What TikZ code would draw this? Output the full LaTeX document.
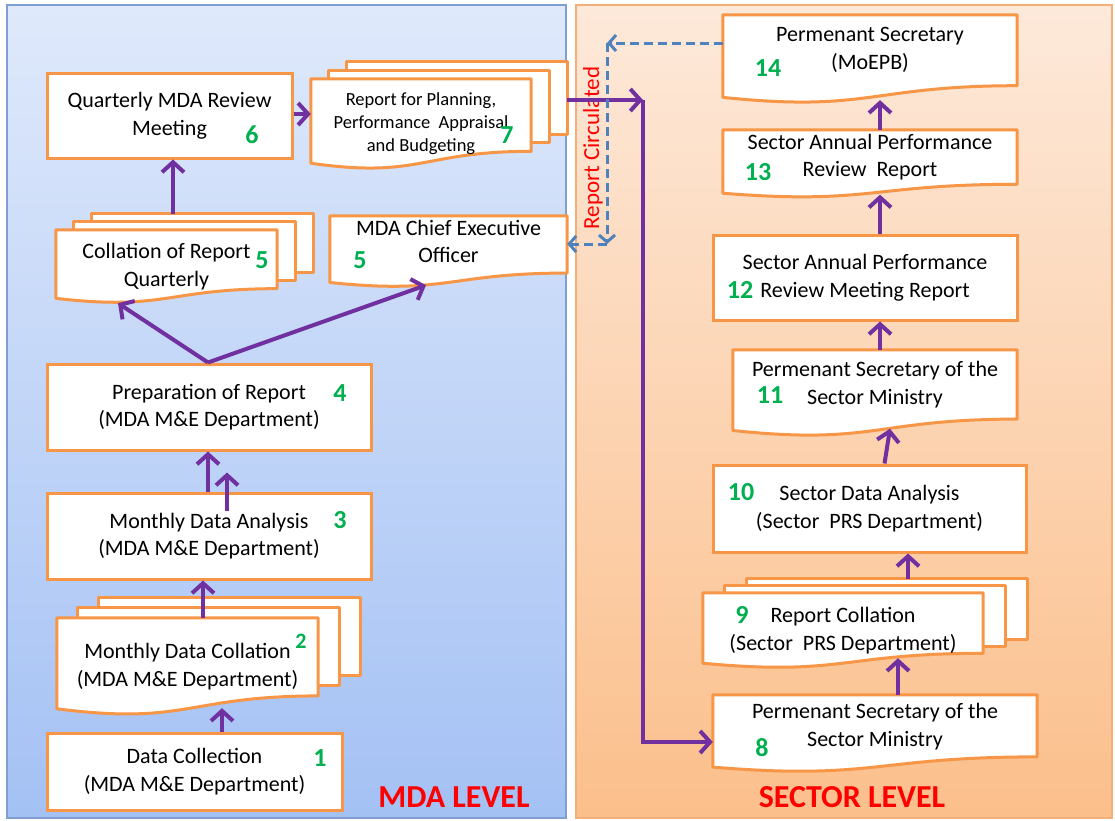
\documentclass[tikz,border=0pt]{standalone}
\usepackage{fontspec}
\setmainfont{Carlito}
\usetikzlibrary{calc, arrows.meta, positioning}
\usepackage{xcolor}

\definecolor{boxorange}{HTML}{F79646}
\definecolor{flowpurple}{HTML}{7030A0}
\definecolor{circblue}{HTML}{4F81BD}
\definecolor{stepgreen}{HTML}{00B050}
\definecolor{mdatop}{HTML}{DFE9FB}
\definecolor{mdabottom}{HTML}{A4C1F4}
\definecolor{mdaedge}{HTML}{7F9FD3}
\definecolor{sectop}{HTML}{FDE9DA}
\definecolor{secbottom}{HTML}{FBBF8B}
\definecolor{secedge}{HTML}{F4AE78}

\newcommand{\boxfont}{\fontsize{22}{27.5}\selectfont}
\newcommand{\smallboxfont}{\fontsize{18.5}{23}\selectfont}
\newcommand{\numfont}{\fontsize{26}{30}\selectfont\bfseries}
% two lines of text set a little above the middle of the sheet
\newcommand{\raisedlines}[2][8pt]{\raisebox{#1}[\height][\depth]{\begin{tabular}{@{}c@{}}#2\end{tabular}}}

\pgfdeclarelayer{panel}
\pgfdeclarelayer{paper}
\pgfsetlayers{panel,paper,main}

% front sheet of a document shape, wavy bottom
\newcommand{\docpage}[1]{%
  \filldraw[sheet] (#1.north west) -- (#1.north east)
    -- ($(#1.north east)!0.802!(#1.south east)$)
    .. controls ($(#1.north)!0.802!(#1.south)$) and ($(#1.north)!1.107!(#1.south)$)
    .. ($(#1.north west)!0.934!(#1.south west)$) -- cycle;}
% two sheets lying behind it
\newcommand{\backpages}[3]{%
  \foreach \p in {2,1}
    \filldraw[sheet] ($(#1.north west)+(\p*#2,-\p*#3)$) rectangle
      ($(#1.north east)!0.802!(#1.south east)+(\p*#2,-\p*#3)$);}

\begin{document}
\begin{tikzpicture}[x=1pt, y=-1pt]
				\tikzstyle{stepbox} = [draw=boxorange, line width=3pt, fill=white, inner sep=0pt, align=center, font=\boxfont]
				\tikzstyle{docbox} = [inner sep=0pt, align=center, font=\boxfont]
				\tikzstyle{sheet} = [draw=boxorange, line width=3pt, fill=white, line join=round]
				\tikzstyle{num} = [text=stepgreen, font=\numfont, inner sep=0pt]
				\tikzstyle{flowarrow} = [draw=flowpurple, line width=4pt, -{Straight Barb[length=10pt, width=22pt]}]
				\tikzstyle{circline} = [draw=circblue, line width=3pt, dash pattern=on 9pt off 5pt, -{Straight Barb[length=7pt, width=16pt]}]
				\tikzstyle{levellabel} = [text=red, font=\fontsize{32}{36}\selectfont\bfseries]
				
				\useasboundingbox (0,0) rectangle (1115,820);
				
				% MDA level
				\node[stepbox, minimum width=295pt, minimum height=77pt] at (194.5,771.5) (n1) {Data Collection\\(MDA M\&E Department)};
				\node[docbox, minimum width=261pt, minimum height=97pt] at (187.5,666.5) (n2) {Monthly Data Collation\\(MDA M\&E Department)};
				\node[stepbox, minimum width=324pt, minimum height=86pt] at (209,536) (n3) {Monthly Data Analysis\\(MDA M\&E Department)};
				\node[stepbox, minimum width=324pt, minimum height=86pt] at (209,407) (n4) {Preparation of Report\\(MDA M\&E Department)};
				\node[docbox, minimum width=221pt, minimum height=73pt] at (166.5,266.5) (n5a) {Collation of Report\\Quarterly};
				\node[docbox, minimum width=237pt, minimum height=71pt] at (448.5,251.5) (n5b) {\raisedlines{MDA Chief Executive\\Officer}};
				\node[stepbox, minimum width=245pt, minimum height=85pt] at (169.5,115.5) (n6) {Quarterly MDA Review\\Meeting};
				\node[docbox, font=\smallboxfont, minimum width=220pt, minimum height=90pt] at (421,124) (n7) {Report for Planning,\\Performance\ \ Appraisal\\and Budgeting};
				
				% sector level
				\node[docbox, minimum width=324pt, minimum height=77pt] at (875,733.5) (n8) {\raisedlines[6.5pt]{Permenant Secretary of the\\Sector Ministry}};
				\node[docbox, minimum width=280pt, minimum height=75pt] at (843,630.5) (n9) {Report Collation\\(Sector\ \ PRS Department)};
				\node[stepbox, minimum width=313pt, minimum height=87pt] at (869.5,508.5) (n10) {Sector Data Analysis\\(Sector\ \ PRS Department)};
				\node[docbox, minimum width=284pt, minimum height=86pt] at (875,393) (n11) {\raisedlines{Permenant Secretary of the\\Sector Ministry}};
				\node[stepbox, minimum width=304pt, minimum height=85pt] at (865,277.5) (n12) {Sector Annual Performance\\Review Meeting Report};
				\node[docbox, minimum width=294pt, minimum height=67.5pt] at (870,163.75) (n13) {\raisedlines[6.5pt]{Sector Annual Performance\\Review\ \ Report}};
				\node[docbox, minimum width=294pt, minimum height=88pt] at (870,59) (n14) {\raisedlines[9pt]{Permenant Secretary\\(MoEPB)}};
				
				% step numbers
				\node[num] at (320,758) (s1) {1};
				\node[num, font=\fontsize{22}{26}\selectfont\bfseries] at (301,641) (s2) {2};
				\node[num] at (340,520) (s3) {3};
				\node[num] at (340,393) (s4) {4};
				\node[num] at (262,260) (s5a) {5};
				\node[num] at (360,260) (s5b) {5};
				\node[num] at (252,135) (s6) {6};
				\node[num] at (507,135) (s7) {7};
				\node[num] at (762,748) (s8) {8};
				\node[num] at (742,615) (s9) {9};
				\node[num] at (741,492) (s10) {10};
				\node[num] at (770,395) (s11) {11};
				\node[num] at (740,290) (s12) {12};
				\node[num] at (758,172) (s13) {13};
				\node[num] at (768,68) (s14) {14};
				
				\node[levellabel] at (454,797) (mdalevel) {MDA LEVEL};
				\node[levellabel] at (852,797) (seclevel) {SECTOR LEVEL};
				\node[rotate=90, text=red, font=\fontsize{23}{27}\selectfont] at (593,148) (circ) {Report Circulated};
				
				\begin{pgfonlayer}{panel}
					\draw[mdaedge, line width=1.2pt, top color=mdatop, bottom color=mdabottom] (7,5) rectangle (566,818);
					\draw[secedge, line width=1.2pt, top color=sectop, bottom color=secbottom] (576,5) rectangle (1112,818);
				\end{pgfonlayer}
				
				\begin{pgfonlayer}{paper}
					\backpages{n2}{21}{10} \docpage{n2}
					\backpages{n5a}{18}{8} \docpage{n5a}
					\docpage{n5b}
					\backpages{n7}{18}{8.5} \docpage{n7}
					\docpage{n8}
					\backpages{n9}{22}{7} \docpage{n9}
					\docpage{n11}
					\docpage{n13}
					\docpage{n14}
				\end{pgfonlayer}
				
				\coordinate (bend) at (643,100);
				\coordinate (c1) at (607,43);
				\coordinate (c2) at (607,244);
				
				\path[every edge/.style={flowarrow}]
				([xshift=27.5pt]n1.north)	edge	([xshift=34.5pt, yshift=7pt]n2.south)
				([xshift=15.5pt]n2.north)	edge	([xshift=-6pt]n3.south)
				([xshift=-1pt]n3.north)	edge	([xshift=-1pt]n4.south)
				([xshift=18pt, yshift=-19pt]n3.north)	edge	([xshift=18pt, yshift=-21pt]n4.south)
				([xshift=-1pt]n4.north)	edge	([xshift=-48.5pt]n5a.south)
				([xshift=-1pt]n4.north)	edge	([xshift=-22.5pt, yshift=2pt]n5b.south)
				([xshift=6.5pt, yshift=16pt]n5a.north)	edge	([xshift=3.5pt]n6.south)
				([yshift=1.5pt]n6.east)	edge	([yshift=10pt]n7.west)
				([xshift=36pt, yshift=24pt]n7.east)	edge	(bend)
				([xshift=23pt]n8.north)	edge	([xshift=55pt, yshift=10pt]n9.south)
				([xshift=65pt, yshift=14pt]n9.north)	edge	([xshift=38.5pt]n10.south)
				([xshift=15pt]n10.north)	edge	([xshift=15pt, yshift=7.5pt]n11.south)
				([xshift=5pt]n11.north)	edge	([xshift=15pt]n12.south)
				([xshift=15pt]n12.north)	edge	([xshift=10pt, yshift=3pt]n13.south)
				([xshift=10pt]n13.north)	edge	([xshift=10pt, yshift=3pt]n14.south);
				\draw[flowarrow] (bend) |- ([yshift=-8.5pt]n8.west);
				
				\path[every edge/.style={circline}]
				([yshift=16pt]n14.west)	edge	(c1)
				(c1)	edge	(c2)
				(c2)	edge	([yshift=7.5pt]n5b.east);
			\end{tikzpicture}
\end{document}
